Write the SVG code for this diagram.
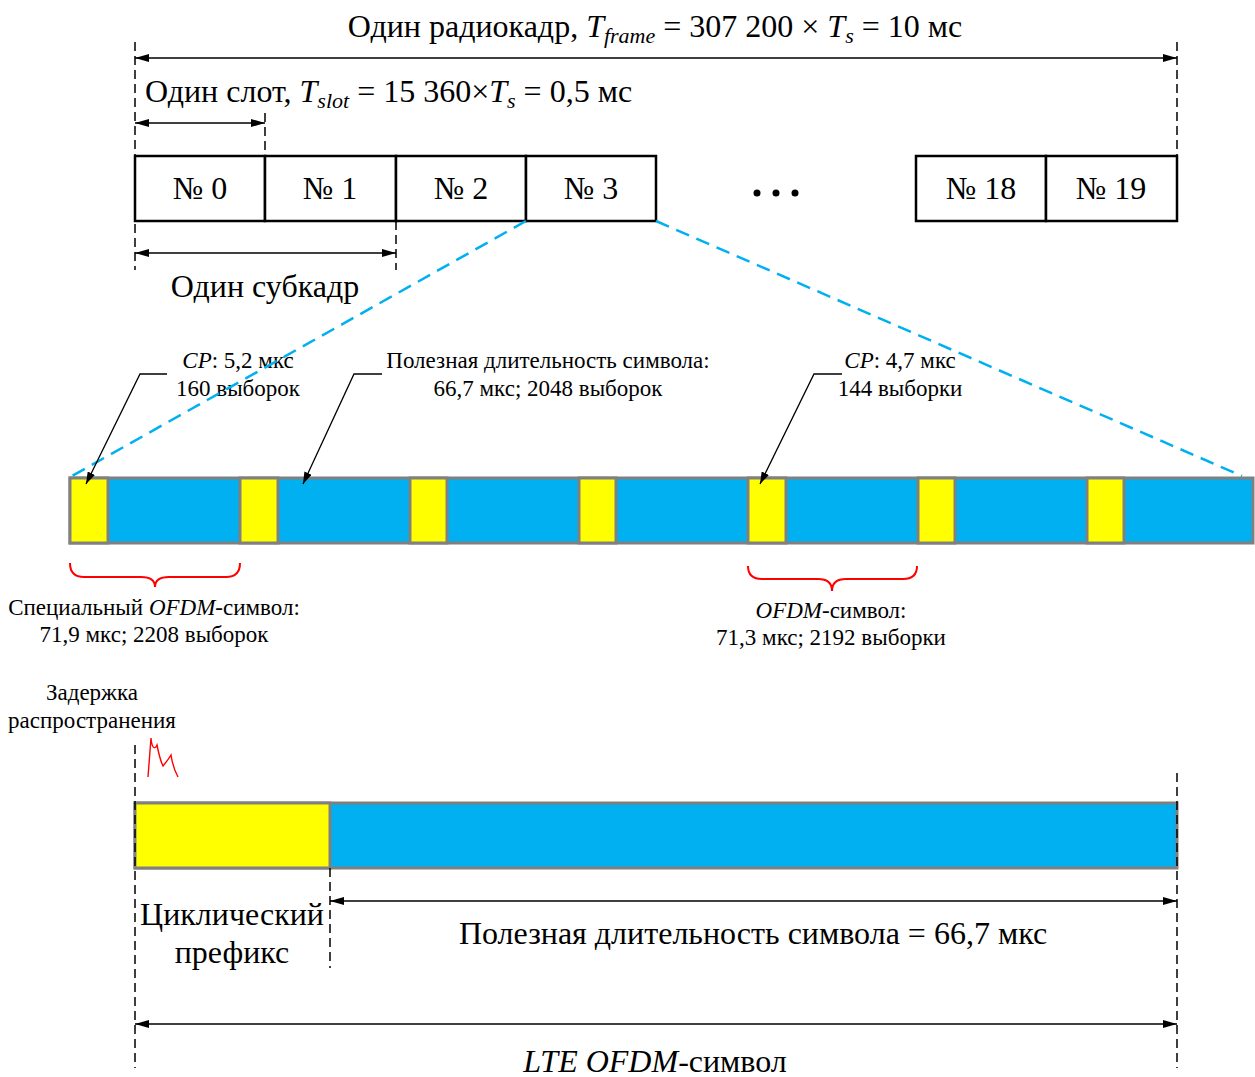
<svg xmlns="http://www.w3.org/2000/svg" width="1255" height="1077" viewBox="0 0 1255 1077">
<style>
text{font-family:"Liberation Serif","Times New Roman",serif;fill:#000}
.t28{font-size:32px}
.t21{font-size:23px}
.it{font-style:italic}
.dim{stroke:#000;stroke-width:1.5;fill:none}
.dash{stroke:#000;stroke-width:1.5;stroke-dasharray:9 5;fill:none}
.box{fill:#fff;stroke:#000;stroke-width:2.5}
.cp{fill:#FFFF00;stroke:#808080;stroke-width:3}
.use{fill:#00B0F0;stroke:#808080;stroke-width:3}
.zoom{stroke:#00B0F0;stroke-width:2.5;stroke-dasharray:14 8;fill:none}
.brace{stroke:#FF0000;stroke-width:2;fill:none}
.lead{stroke:#000;stroke-width:1.3;fill:none}
</style>
<defs>
<marker id="ah" viewBox="0 0 14 8" refX="14" refY="4" markerWidth="14" markerHeight="8" markerUnits="userSpaceOnUse" orient="auto-start-reverse">
<path d="M0,0 L14,4 L0,8 z" fill="#000"/>
</marker>
<marker id="ah2" viewBox="0 0 12 8" refX="12" refY="4" markerWidth="12" markerHeight="8" markerUnits="userSpaceOnUse" orient="auto">
<path d="M0,0 L12,4 L0,8 z" fill="#000"/>
</marker>
</defs>

<g id="frame-labels">
<text class="t28" x="655" y="37" text-anchor="middle">Один радиокадр, <tspan class="it">T</tspan><tspan class="it" font-size="22" dy="6">frame</tspan><tspan dy="-6"> = 307 200 × </tspan><tspan class="it">T</tspan><tspan class="it" font-size="22" dy="6">s</tspan><tspan dy="-6"> = 10 мс</tspan></text>
<text class="t28" x="145" y="102">Один слот, <tspan class="it">T</tspan><tspan class="it" font-size="22" dy="6">slot</tspan><tspan dy="-6"> = 15 360×</tspan><tspan class="it">T</tspan><tspan class="it" font-size="22" dy="6">s</tspan><tspan dy="-6"> = 0,5 мс</tspan></text>
<text class="t28" x="265" y="297" text-anchor="middle">Один субкадр</text>
</g>

<g id="slots">
<g id="slot0"><rect class="box" x="135" y="156" width="130" height="65"/><text class="t28" x="200" y="199" text-anchor="middle">№ 0</text></g>
<g id="slot1"><rect class="box" x="265" y="156" width="131" height="65"/><text class="t28" x="330" y="199" text-anchor="middle">№ 1</text></g>
<g id="slot2"><rect class="box" x="396" y="156" width="130" height="65"/><text class="t28" x="461" y="199" text-anchor="middle">№ 2</text></g>
<g id="slot3"><rect class="box" x="526" y="156" width="130" height="65"/><text class="t28" x="591" y="199" text-anchor="middle">№ 3</text></g>
<g id="ellipsis"><circle cx="757" cy="193" r="3.5"/><circle cx="776" cy="193" r="3.5"/><circle cx="795" cy="193" r="3.5"/></g>
<g id="slot18"><rect class="box" x="916" y="156" width="130" height="65"/><text class="t28" x="981" y="199" text-anchor="middle">№ 18</text></g>
<g id="slot19"><rect class="box" x="1046" y="156" width="131" height="65"/><text class="t28" x="1111" y="199" text-anchor="middle">№ 19</text></g>
</g>

<g id="slot-symbols">
<rect class="use" x="70" y="478" width="1183" height="65"/>
<rect class="cp" x="70" y="478" width="38" height="65"/>
<rect class="cp" x="240" y="478" width="38" height="65"/>
<rect class="cp" x="410" y="478" width="37" height="65"/>
<rect class="cp" x="579" y="478" width="37" height="65"/>
<rect class="cp" x="748" y="478" width="38" height="65"/>
<rect class="cp" x="918" y="478" width="37" height="65"/>
<rect class="cp" x="1087" y="478" width="37" height="65"/>
</g>

<g id="callouts">
<text class="t21" x="238" y="368" text-anchor="middle"><tspan class="it">CP</tspan>: 5,2 мкс</text>
<text class="t21" x="238" y="396" text-anchor="middle">160 выборок</text>
<text class="t21" x="548" y="368" text-anchor="middle">Полезная длительность символа:</text>
<text class="t21" x="548" y="396" text-anchor="middle">66,7 мкс; 2048 выборок</text>
<text class="t21" x="900" y="368" text-anchor="middle"><tspan class="it">CP</tspan>: 4,7 мкс</text>
<text class="t21" x="900" y="396" text-anchor="middle">144 выборки</text>
<text class="t21" x="154" y="615" text-anchor="middle">Специальный <tspan class="it">OFDM</tspan>-символ:</text>
<text class="t21" x="154" y="642" text-anchor="middle">71,9 мкс; 2208 выборок</text>
<text class="t21" x="831" y="618" text-anchor="middle"><tspan class="it">OFDM</tspan>-символ:</text>
<text class="t21" x="831" y="645" text-anchor="middle">71,3 мкс; 2192 выборки</text>
<text class="t21" x="92" y="700" text-anchor="middle">Задержка</text>
<text class="t21" x="92" y="728" text-anchor="middle">распространения</text>
</g>

<g id="delay-spread">
<path d="M148,777 L151,738 Q152,750 156,747 L157,745 Q160,760 163,766 Q168,760 171,755 Q173,768 178,777" stroke="#FF0000" stroke-width="1.4" fill="none"/>
</g>

<g id="lte-symbol">
<rect class="use" x="135" y="803" width="1042" height="65"/>
<rect class="cp" x="135" y="803" width="195" height="65"/>
<text class="t28" x="232" y="925" text-anchor="middle">Циклический</text>
<text class="t28" x="232" y="963" text-anchor="middle">префикс</text>
<text class="t28" x="753" y="944" text-anchor="middle">Полезная длительность символа = 66,7 мкс</text>
<text class="t28" x="655" y="1072" text-anchor="middle"><tspan class="it">LTE OFDM</tspan>-символ</text>
</g>

<g id="connectors">
<line class="dash" x1="135" y1="42" x2="135" y2="270"/>
<line class="dash" x1="1177" y1="42" x2="1177" y2="156"/>
<line class="dash" x1="265" y1="113" x2="265" y2="156"/>
<line class="dash" x1="396" y1="221" x2="396" y2="270"/>
<line class="dim" x1="135" y1="58" x2="1177" y2="58" marker-start="url(#ah)" marker-end="url(#ah)"/>
<line class="dim" x1="135" y1="123" x2="265" y2="123" marker-start="url(#ah)" marker-end="url(#ah)"/>
<line class="dim" x1="135" y1="253" x2="396" y2="253" marker-start="url(#ah)" marker-end="url(#ah)"/>
<line class="zoom" x1="526" y1="221" x2="72" y2="476"/>
<line class="zoom" x1="656" y1="221" x2="1242" y2="476"/>
<polyline class="lead" points="167,374 140,374 86,484" marker-end="url(#ah2)"/>
<polyline class="lead" points="382,374 354,374 303,484" marker-end="url(#ah2)"/>
<polyline class="lead" points="842,374 814,374 760,484" marker-end="url(#ah2)"/>
<path class="brace" d="M70,563 Q70,577 84,577 L141,577 Q155,577 155,587 Q155,577 169,577 L226,577 Q240,577 240,563"/>
<path class="brace" d="M748,566 Q748,579 762,579 L818,579 Q832,579 832,591 Q832,579 846,579 L903,579 Q917,579 917,566"/>
<line class="dash" x1="135" y1="745" x2="135" y2="1068"/>
<line class="dash" x1="1177" y1="773" x2="1177" y2="1068"/>
<line class="dash" x1="330" y1="868" x2="330" y2="968"/>
<line class="dim" x1="330" y1="901" x2="1177" y2="901" marker-start="url(#ah)" marker-end="url(#ah)"/>
<line class="dim" x1="135" y1="1024" x2="1177" y2="1024" marker-start="url(#ah)" marker-end="url(#ah)"/>
</g>
</svg>
